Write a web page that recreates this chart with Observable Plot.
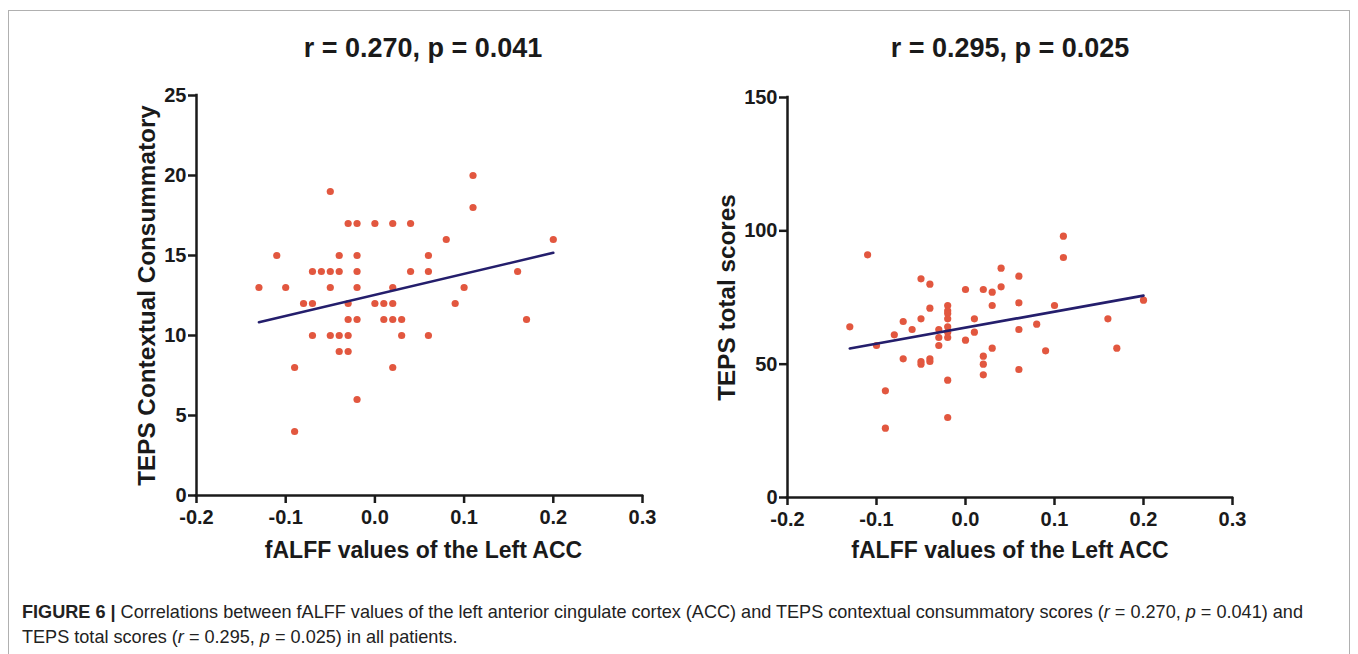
<!DOCTYPE html>
<html><head><meta charset="utf-8">
<script src="https://cdn.jsdelivr.net/npm/d3@7"></script>
<script src="https://cdn.jsdelivr.net/npm/@observablehq/plot@0.6"></script>
<style>
body{margin:0;background:#fff;font-family:"Liberation Sans",Arial,sans-serif;}
#page{position:relative;width:1358px;height:654px;overflow:hidden;background:#fff;}
#frame{position:absolute;left:8px;top:10px;width:1342px;height:700px;border:1px solid #b0b0b0;box-sizing:border-box;}
.title{position:absolute;top:48px;font-weight:bold;font-size:27px;color:#1a1a1a;transform:translate(-50%,-50%);white-space:nowrap;}
.chart{position:absolute;top:0;}
#caption{position:absolute;left:22px;top:600px;font-size:18.1px;line-height:25px;color:#222;white-space:nowrap;}
#caption b{font-weight:bold;}
</style></head>
<body><div id="page">
<div id="frame"></div>
<div id="left" class="chart" style="left:0px"></div>
<div id="right" class="chart" style="left:680px"></div>
<div class="title" id="t1" style="left:423px"></div>
<div class="title" id="t2" style="left:1010px"></div>
<div id="caption"><b>FIGURE 6 |</b> Correlations between fALFF values of the left anterior cingulate cortex (ACC) and TEPS contextual consummatory scores (<i>r</i> = 0.270, <i>p</i> = 0.041) and<br>TEPS total scores (<i>r</i> = 0.295, <i>p</i> = 0.025) in all patients.</div>
</div>
<script>
// ---- data ----
const titles = ["r = 0.270, p = 0.041", "r = 0.295, p = 0.025"];
const xLabel = "fALFF values of the Left ACC";
const yLabels = ["TEPS Contextual Consummatory", "TEPS total scores"];
const xTicks = [-0.2, -0.1, 0.0, 0.1, 0.2, 0.3];
const yTicksLeft = [0, 5, 10, 15, 20, 25];
const yTicksRight = [0, 50, 100, 150];

const leftX = [-0.13,-0.11,-0.10,-0.09,-0.09,-0.08,-0.07,-0.07,-0.07,-0.06,-0.05,-0.05,-0.05,-0.05,
  -0.04,-0.04,-0.04,-0.04,-0.03,-0.03,-0.03,-0.03,-0.03,-0.02,-0.02,-0.02,-0.02,-0.02,-0.02,
  0.00,0.00,0.01,0.01,0.02,0.02,0.02,0.02,0.02,0.03,0.03,0.04,0.04,0.06,0.06,0.06,
  0.08,0.09,0.10,0.11,0.11,0.16,0.17,0.20];
const leftY = [13,15,13,8,4,12,14,12,10,14,19,14,13,10,
  15,14,10,9,17,12,11,10,9,17,15,14,13,11,6,
  17,12,12,11,17,13,12,11,8,11,10,17,14,15,14,10,
  16,12,13,20,18,14,11,16];

const rightX = [-0.13,-0.11,-0.10,-0.09,-0.09,-0.08,-0.07,-0.07,-0.06,-0.05,-0.05,-0.05,-0.05,
  -0.04,-0.04,-0.04,-0.04,-0.03,-0.03,-0.03,-0.02,-0.02,-0.02,-0.02,-0.02,-0.02,-0.02,-0.02,-0.02,
  0.00,0.00,0.01,0.01,0.02,0.02,0.02,0.02,0.03,0.03,0.03,0.04,0.04,0.06,0.06,0.06,0.06,
  0.08,0.09,0.10,0.11,0.11,0.16,0.17,0.20];
const rightY = [64,91,57,40,26,61,66,52,63,82,67,51,50,
  80,71,52,51,63,60,57,72,70,69,67,64,62,60,44,30,
  78,59,67,62,78,53,50,46,77,72,56,86,79,83,73,63,48,
  65,55,72,98,90,67,56,74];

const fitLeftX = [-0.13, 0.20], fitLeftY = [10.83, 15.17];
const fitRightX = [-0.13, 0.20], fitRightY = [55.9, 75.7];

const FONT = "Liberation Sans, Arial, sans-serif";
const INK = "#1a1a1a";

function panel(o) {
  const pts = o.xs.map((x, i) => ({x, y: o.ys[i]}));
  const fit = o.fx.map((x, i) => ({x, y: o.fy[i]}));
  return Plot.plot({
    width: o.width, height: 580,
    marginLeft: o.ml, marginRight: o.mr, marginTop: o.mt, marginBottom: o.mb,
    style: {fontFamily: FONT, color: INK, background: "transparent", overflow: "visible"},
    x: {domain: [-0.2, 0.3]},
    y: {domain: o.yDomain},
    marks: [
      Plot.axisX({ticks: xTicks, tickFormat: d => d.toFixed(1), tickSize: 8, tickPadding: 6,
        fontSize: 20, fontWeight: "bold", strokeWidth: 2.5, stroke: INK, fill: INK, label: null}),
      Plot.axisY({ticks: o.yTicks, tickFormat: d => String(d), tickSize: 8, tickPadding: 2,
        fontSize: 20, fontWeight: "bold", strokeWidth: 2.5, stroke: INK, fill: INK, label: null}),
      Plot.ruleY([o.yDomain[0]], {stroke: INK, strokeWidth: 2.5, strokeLinecap: "square"}),
      Plot.ruleX([-0.2], {stroke: INK, strokeWidth: 2.5, strokeLinecap: "square"}),
      Plot.dot(pts, {x: "x", y: "y", r: 3.6, fill: "#e2573f"}),
      Plot.line(fit, {x: "x", y: "y", stroke: "#241e6c", strokeWidth: 2.6}),
      Plot.text([xLabel], {frameAnchor: "bottom", dy: o.xdy, dx: o.xdx, text: d => d,
        textAnchor: "middle", lineAnchor: "middle", fontSize: 23, fontWeight: "bold", fill: INK}),
      Plot.text([o.ylabel], {frameAnchor: "left", dx: o.ydx, rotate: -90, text: d => d,
        textAnchor: "middle", lineAnchor: "middle", fontSize: 24.3, fontWeight: "bold", fill: INK})
    ]
  });
}

document.getElementById("t1").textContent = titles[0];
document.getElementById("t2").textContent = titles[1];

document.getElementById("left").append(panel({
  xs: leftX, ys: leftY, fx: fitLeftX, fy: fitLeftY, yDomain: [0, 25], yTicks: yTicksLeft,
  ylabel: yLabels[0], width: 680, ml: 196, mr: 38, mt: 95, mb: 85, xdy: 55, xdx: 4, ydx: -49
}));
document.getElementById("right").append(panel({
  xs: rightX, ys: rightY, fx: fitRightX, fy: fitRightY, yDomain: [0, 150], yTicks: yTicksRight,
  ylabel: yLabels[1], width: 678, ml: 107, mr: 126, mt: 97, mb: 83, xdy: 53, xdx: 0, ydx: -60
}));
</script>
</body></html>
